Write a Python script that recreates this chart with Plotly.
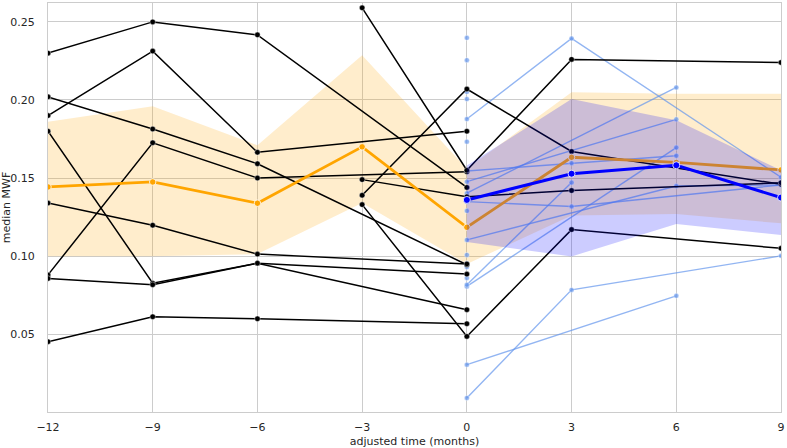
import plotly.graph_objects as go

# ---------------- data ----------------
# group 1 (black) individual subjects: (times, values)
black_times = [
    [-12, -9, -6, 0],
    [-12, -9, -6, 0],
    [-12, -9, -6, 0],
    [-12, -9, -6, 0],
    [-12, -9, -6, 0],
    [-12, -9, -6, 0],
    [-12, -9, -6, 0],
    [-12, -9, -6, 0],
    [-3, 0, 3, 9],
    [-3, 0, 3, 9],
    [-3, 0, 3, 9],
    [-3, 0, 3, 9],
]
black_values = [
    [0.230, 0.250, 0.2417, 0.144],
    [0.190, 0.2313, 0.1665, 0.180],
    [0.202, 0.1814, 0.1592, 0.0945],
    [0.088, 0.1726, 0.150, 0.154],
    [0.134, 0.1198, 0.1013, 0.0950],
    [0.180, 0.0827, 0.0955, 0.0885],
    [0.0857, 0.0817, 0.0955, 0.0657],
    [0.0452, 0.0612, 0.0599, 0.0567],
    [0.259, 0.155, 0.226, 0.224],
    [0.139, 0.207, 0.167, 0.146],
    [0.149, 0.138, 0.142, 0.147],
    [0.133, 0.0486, 0.117, 0.105],
]

# group 2 (light blue) individual subjects
blue_times = [
    [0, 3, 9],
    [0, 6],
    [0, 3, 9],
    [0, 6],
    [0, 6],
    [0, 6],
    [0, 3, 6],
    [0, 3, 9],
    [0, 3],
    [0, 6, 9],
    [0], [0], [0], [0], [0], [0], [0], [0], [0], [0], [0],
]
blue_values = [
    [0.1878, 0.2394, 0.1505],
    [0.0305, 0.0746],
    [0.0092, 0.0784, 0.1002],
    [0.1403, 0.208],
    [0.1477, 0.1876],
    [0.0806, 0.1695],
    [0.1545, 0.1595, 0.1643],
    [0.1349, 0.1318, 0.1456],
    [0.0817, 0.1471],
    [0.1104, 0.1449, 0.1456],
    [0.2398], [0.2255], [0.2052], [0.2006], [0.1733], [0.129],
    [0.1008], [0.0955], [0.093], [0.086], [0.1381],
]

# group means and confidence bands
orange_t = [-12, -9, -6, -3, 0, 3, 6, 9]
orange_mean = [0.1443, 0.1475, 0.1339, 0.170, 0.1185, 0.1633, 0.160, 0.1552]
orange_upper = [0.186, 0.196, 0.171, 0.2287, 0.156, 0.205, 0.204, 0.204]
orange_lower = [0.100, 0.100, 0.1013, 0.134, 0.095, 0.126, 0.127, 0.121]

blue_t = [0, 3, 6, 9]
blue_mean = [0.136, 0.1528, 0.1582, 0.1375]
blue_upper = [0.158, 0.2006, 0.187, 0.155]
blue_lower = [0.109, 0.0998, 0.1206, 0.1136]

x_ticks = [-12, -9, -6, -3, 0, 3, 6, 9]
x_ticklabels = ["\u221212", "\u22129", "\u22126", "\u22123", "0", "3", "6", "9"]
y_ticks = [0.05, 0.10, 0.15, 0.20, 0.25]
y_ticklabels = ["0.05", "0.10", "0.15", "0.20", "0.25"]

# ---------------- figure ----------------
fig = go.Figure()

# orange band (drawn first)
fig.add_trace(go.Scatter(
    x=orange_t + orange_t[::-1], y=orange_upper + orange_lower[::-1],
    fill="toself", fillcolor="rgba(255,165,0,0.2)", mode="lines",
    line=dict(width=0, color="rgba(0,0,0,0)"), showlegend=False, hoverinfo="skip"))

for t, v in zip(blue_times, blue_values):
    fig.add_trace(go.Scatter(
        x=t, y=v, mode="lines+markers",
        line=dict(color="rgba(100,149,237,0.7)", width=1.4),
        marker=dict(color="rgba(100,149,237,0.7)", size=5,
                    line=dict(color="white", width=0.4)),
        showlegend=False, hoverinfo="skip"))

for t, v in zip(black_times, black_values):
    fig.add_trace(go.Scatter(
        x=t, y=v, mode="lines+markers",
        line=dict(color="black", width=1.5),
        marker=dict(color="black", size=5.5,
                    line=dict(color="white", width=0.4)),
        showlegend=False, hoverinfo="skip"))

# orange mean
fig.add_trace(go.Scatter(
    x=orange_t, y=orange_mean, mode="lines+markers",
    line=dict(color="#ffa500", width=2.8),
    marker=dict(color="#ffa500", size=6.5, line=dict(color="white", width=0.8)),
    showlegend=False, hoverinfo="skip"))

# blue band + mean
fig.add_trace(go.Scatter(
    x=blue_t + blue_t[::-1], y=blue_upper + blue_lower[::-1],
    fill="toself", fillcolor="rgba(0,0,255,0.2)", mode="lines",
    line=dict(width=0, color="rgba(0,0,0,0)"), showlegend=False, hoverinfo="skip"))
fig.add_trace(go.Scatter(
    x=blue_t, y=blue_mean, mode="lines+markers",
    line=dict(color="#0000ff", width=3),
    marker=dict(color="#0000ff", size=7, line=dict(color="white", width=0.8)),
    showlegend=False, hoverinfo="skip"))

axis_font = dict(family="DejaVu Sans", size=11, color="#262626")
fig.update_layout(
    width=787, height=448,
    margin=dict(l=48, r=6, t=3, b=36),
    paper_bgcolor="white", plot_bgcolor="white",
    font=dict(family="DejaVu Sans", size=11, color="#262626"),
    showlegend=False,
)
fig.update_xaxes(
    range=[-12, 9], tickvals=x_ticks, ticktext=x_ticklabels,
    showgrid=True, gridcolor="#cccccc", gridwidth=1, zeroline=False,
    showline=True, linecolor="#cccccc", linewidth=1, mirror=True,
    ticks="", ticklabelstandoff=5, tickfont=axis_font, automargin=False,
    title=dict(text="adjusted time (months)", font=axis_font, standoff=8),
)
fig.update_yaxes(
    range=[0.0002, 0.2621], tickvals=y_ticks, ticktext=y_ticklabels,
    showgrid=True, gridcolor="#cccccc", gridwidth=1, zeroline=False,
    showline=True, linecolor="#cccccc", linewidth=1, mirror=True,
    ticks="", ticklabelstandoff=10, tickfont=axis_font, automargin=False,
    title=dict(text="median MWF", font=axis_font, standoff=4),
)

fig.write_html("out.html", config={"displayModeBar": False},
               post_script="document.body.style.margin='0';document.body.style.overflow='hidden';")
